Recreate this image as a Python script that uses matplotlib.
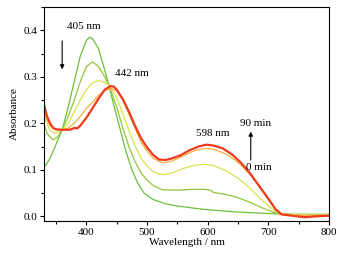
import matplotlib
matplotlib.use('Agg')
import matplotlib.pyplot as plt
from matplotlib.ticker import MultipleLocator

plt.rcParams['font.family'] = 'Liberation Serif'
plt.rcParams['font.size'] = 8

# spectra: wavelength (nm), absorbance
wl_0 = [330, 340, 350, 360, 370, 380, 390, 400, 405, 410, 420, 430, 437, 445, 455, 465, 475, 485, 495,
        510, 530, 550, 580, 600, 650, 700, 750, 800]
abs_0 = [0.104, 0.125, 0.155, 0.186, 0.235, 0.29, 0.345, 0.378, 0.385, 0.382, 0.36, 0.315, 0.282, 0.24,
         0.19, 0.14, 0.1, 0.07, 0.05, 0.036, 0.027, 0.022, 0.017, 0.014, 0.009, 0.006, 0.004, 0.004]

wl_1 = [330, 335, 345, 352, 360, 370, 380, 390, 400, 410, 420, 430, 437, 450, 460, 470, 480, 490, 500,
        510, 525, 550, 575, 595, 605, 610, 630, 650, 670, 690, 710, 720, 800]
abs_1 = [0.2, 0.178, 0.164, 0.17, 0.186, 0.215, 0.25, 0.29, 0.322, 0.332, 0.322, 0.3, 0.282, 0.235, 0.19,
         0.15, 0.118, 0.093, 0.078, 0.066, 0.057, 0.056, 0.058, 0.058, 0.056, 0.051, 0.047, 0.04, 0.03,
         0.018, 0.008, 0.004, 0.004]

wl_2 = [330, 340, 348, 360, 370, 380, 390, 400, 410, 420, 430, 437, 450, 460, 470, 480, 490, 500, 510,
        525, 540, 560, 580, 595, 610, 630, 650, 670, 690, 710, 720, 800]
abs_2 = [0.215, 0.185, 0.178, 0.186, 0.2, 0.225, 0.25, 0.272, 0.287, 0.292, 0.288, 0.282, 0.255, 0.22,
         0.185, 0.152, 0.125, 0.108, 0.096, 0.089, 0.093, 0.103, 0.11, 0.112, 0.109, 0.098, 0.082, 0.06,
         0.034, 0.012, 0.004, 0.003]

wl_3 = [330, 340, 350, 360, 370, 380, 390, 400, 410, 420, 430, 440, 450, 460, 470, 480, 490, 500, 510,
        525, 540, 560, 580, 598, 610, 630, 650, 670, 690, 710, 720, 740, 800]
abs_3 = [0.22, 0.195, 0.186, 0.186, 0.19, 0.2, 0.215, 0.232, 0.245, 0.26, 0.27, 0.275, 0.27, 0.25, 0.22,
         0.19, 0.16, 0.14, 0.125, 0.115, 0.118, 0.13, 0.142, 0.146, 0.144, 0.134, 0.116, 0.09, 0.055,
         0.018, 0.006, 0.002, 0.003]

wl_4 = [330, 335, 340, 345, 350, 360, 370, 375, 380, 385, 390, 400, 410, 420, 430, 440, 445, 450, 460,
        470, 480, 490, 500, 510, 520, 530, 540, 555, 570, 585, 598, 610, 625, 640, 655, 670, 685, 700,
        712, 722, 740, 760, 780, 800]
abs_4 = [0.24, 0.215, 0.2, 0.19, 0.187, 0.186, 0.186, 0.187, 0.19, 0.189, 0.195, 0.212, 0.232, 0.253,
         0.272, 0.28, 0.279, 0.272, 0.252, 0.225, 0.195, 0.168, 0.148, 0.132, 0.122, 0.121, 0.124, 0.131,
         0.142, 0.15, 0.154, 0.152, 0.146, 0.133, 0.115, 0.092, 0.065, 0.038, 0.015, 0.004, 0.001,
         -0.002, 0.0, 0.001]

spectra = [(wl_0, abs_0, '#6cbf3e', 0.9),
           (wl_1, abs_1, '#93c63c', 0.9),
           (wl_2, abs_2, '#d8e24c', 0.9),
           (wl_3, abs_3, '#f5b03c', 0.9),
           (wl_4, abs_4, '#f03a1c', 1.6)]

fig = plt.figure(figsize=(3.45, 2.59), dpi=100)
ax = fig.add_axes([0.1275, 0.147, 0.826, 0.826])

for wl, ab, col, lw in spectra:
    ax.plot(wl, ab, color=col, lw=lw)

ax.set_xlim(330, 800)
ax.set_ylim(-0.01, 0.45)
ax.xaxis.set_major_locator(MultipleLocator(100))
ax.xaxis.set_minor_locator(MultipleLocator(50))
ax.yaxis.set_major_locator(MultipleLocator(0.1))
ax.yaxis.set_minor_locator(MultipleLocator(0.05))
ax.yaxis.set_major_formatter(matplotlib.ticker.FormatStrFormatter('%.1f'))
ax.tick_params(which='both', direction='out', top=False, right=False, pad=2)
ax.tick_params(which='major', length=3, width=0.8)
ax.tick_params(which='minor', length=2, width=0.8)
for s in ax.spines.values():
    s.set_linewidth(0.8)

ax.set_xlabel('Wavelength / nm', labelpad=1)
ax.set_ylabel('Absorbance', labelpad=3)

ax.text(395, 0.408, '405 nm', ha='center', va='center')
ax.text(475, 0.308, '442 nm', ha='center', va='center')
ax.text(609, 0.179, '598 nm', ha='center', va='center')
ax.text(653, 0.2, '90 min', ha='left', va='center')
ax.text(664, 0.104, '0 min', ha='left', va='center')

ax.annotate('', xy=(360, 0.31), xytext=(360, 0.383),
            arrowprops=dict(arrowstyle='-|>', color='black', lw=0.8, mutation_scale=6))
ax.annotate('', xy=(671, 0.188), xytext=(671, 0.115),
            arrowprops=dict(arrowstyle='-|>', color='black', lw=0.8, mutation_scale=6))

fig.savefig('out.png', dpi=100)
